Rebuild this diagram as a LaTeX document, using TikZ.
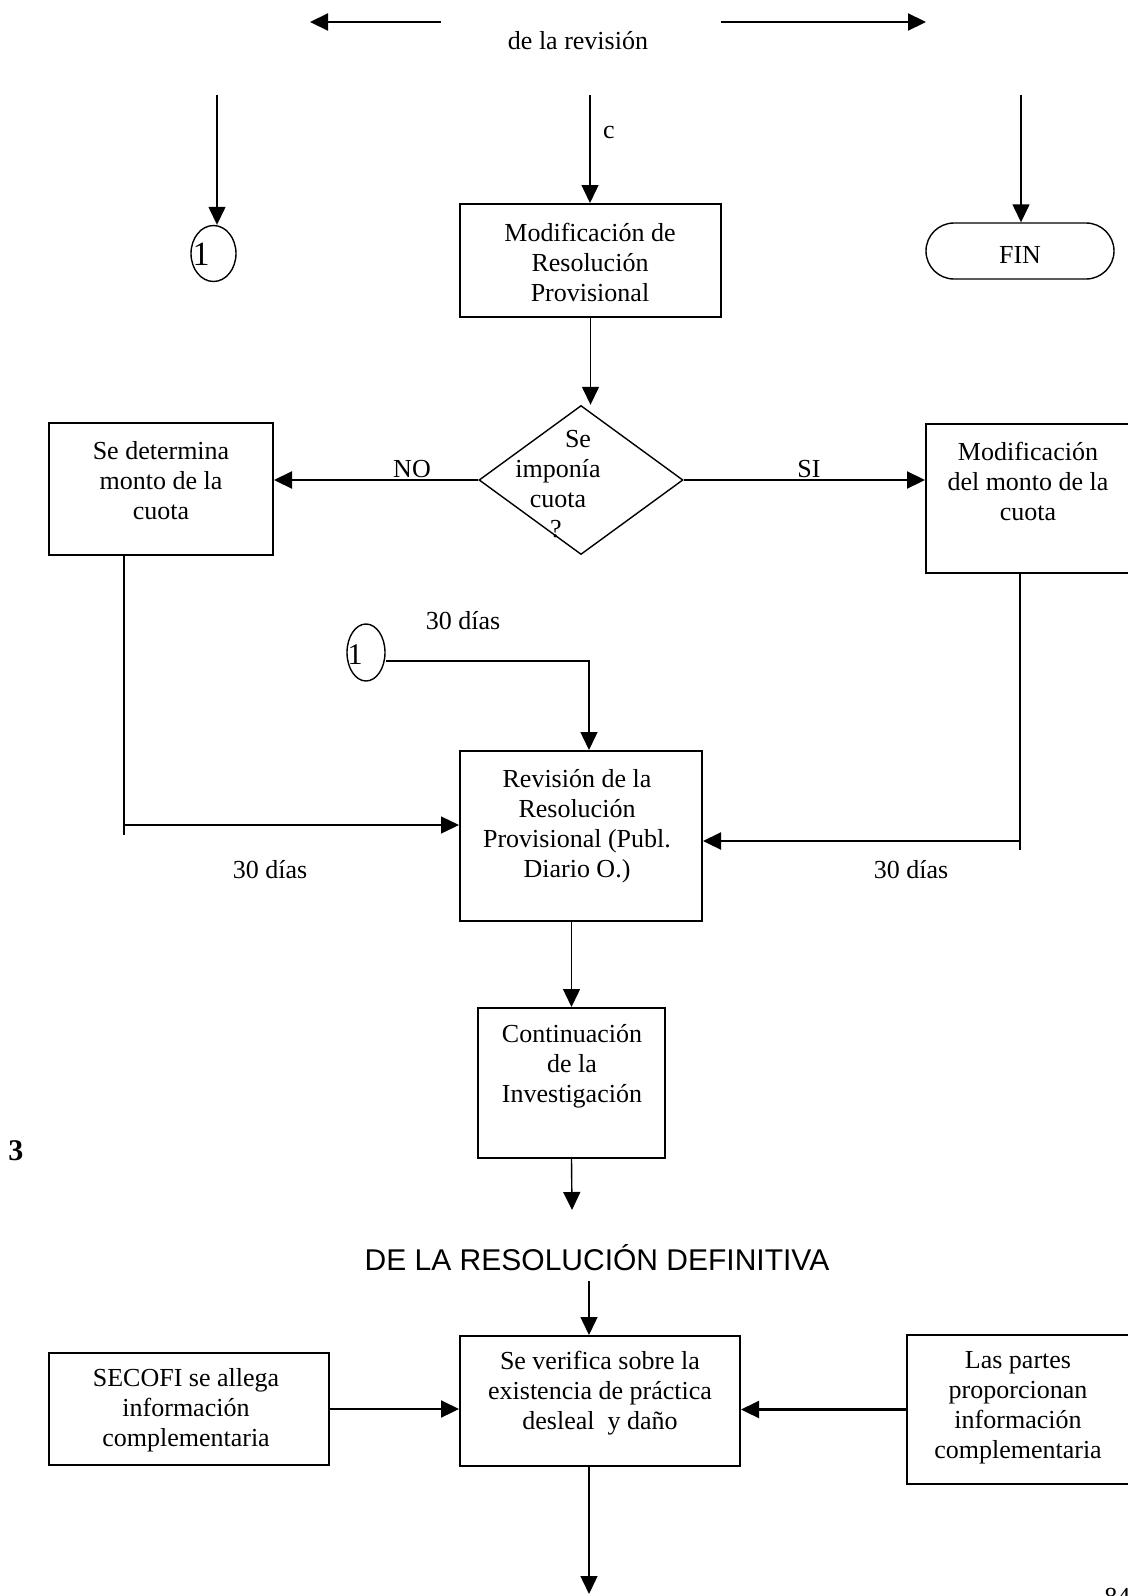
\documentclass[tikz,border=0pt]{standalone}
\usepackage{fontspec}
\setmainfont{Liberation Serif}
\newfontfamily\headfont{Liberation Sans}
\usetikzlibrary{arrows.meta,shapes.geometric,shapes.misc}

\begin{document}
\begin{tikzpicture}[x=0.5pt,y=-0.5pt,
  box/.style={draw,line width=1pt,inner sep=0pt},
  txt/.style={align=center,font=\fontsize{13}{15}\selectfont,inner sep=0pt},
  wire/.style={line width=0.7pt},
  arr/.style={line width=0.7pt,-{Triangle[length=9pt,width=8.5pt]}},
  tarr/.style={line width=1.1pt,-{Triangle[length=9pt,width=8.5pt]}},
]
\useasboundingbox (0,0) rectangle (1128,1596);

% ---------- top: outcome of the review ----------
\node[txt] (rev0) at (578,41) {de la revisión};
\coordinate (tla) at (441,22);
\coordinate (tlb) at (310,22);
\coordinate (tra) at (721,22);
\coordinate (trb) at (926,22);
\draw[tarr] (tla) -- (tlb);
\draw[tarr] (tra) -- (trb);

\coordinate (v1) at (217,95);
\coordinate (v2) at (590,95);
\coordinate (v3) at (1021,95);

\node[draw,ellipse,line width=0.7pt,inner sep=0pt,minimum width=22.5pt,minimum height=28pt] (c1) at (213.5,253.5) {};
\node[txt,font=\fontsize{17}{19}\selectfont] (c1t) at (201,254) {1};
\node[box,minimum width=130.5pt,minimum height=56.5pt] (mod) at (590.5,260.5) {};
\node[txt] (modt) at (590,262) {Modificación de\\Resolución\\Provisional};
\node[draw,rounded rectangle,line width=0.7pt,inner sep=0pt,minimum width=94pt,minimum height=28pt] (fin) at (1020,251) {};
\node[txt] (fint) at (1020,255) {FIN};

\draw[arr] (v1) -- (v1 |- c1.north);
\draw[arr] (v2) -- (v2 |- mod.north);
\draw[arr] (v3) -- (v3 |- fin.north);
\node[txt] (clab) at (609,132) {c};

% ---------- decision ----------
\node[draw,diamond,line width=0.7pt,inner sep=0pt,minimum width=102pt,minimum height=74.5pt] (dia) at (581,480) {};
\node[txt] (diat) at (558,484) {\hspace*{20pt}Se\\imponía\\cuota\hspace*{6pt}\\?\hspace*{2pt}};
\draw[arr] (mod.south) -- (mod.south |- dia.north);

\node[box,minimum width=112pt,minimum height=66pt] (det) at (161,489) {};
\node[txt] (dett) at (161,481) {Se determina\\monto de la\\cuota};
\node[box,minimum width=107pt,minimum height=74.5pt] (mm) at (1033,498.5) {};
\node[txt] (mmt) at (1028,481) {Modificación\\del monto de la\\cuota};

\draw[tarr] (dia.west) -- (dia.west -| det.east);
\draw[tarr] (dia.east) -- (dia.east -| mm.west);
\node[txt] (nolab) at (412,469) {NO};
\node[txt] (silab) at (809,469) {SI};

% ---------- review of the provisional resolution ----------
\node[box,minimum width=121pt,minimum height=85pt] (rev) at (581,836) {};
\node[txt] (revt) at (577,826) {Revisión de la\\Resolución\\Provisional (Publ.\\Diario O.)};

\coordinate (l1) at (124,835);
\coordinate (l2) at (124,825);
\draw[wire] (det.south -| l1) -- (l1);
\draw[arr] (l2) -- (l2 -| rev.west);
\node[txt] (d1) at (270,870) {30 días};

\coordinate (r1) at (1020,850);
\coordinate (r2) at (1020,841);
\draw[wire] (mm.south -| r1) -- (r1);
\draw[tarr] (r2) -- (r2 -| rev.east);
\node[txt] (d2) at (911,870) {30 días};

\node[draw,ellipse,line width=0.7pt,inner sep=0pt,minimum width=19pt,minimum height=28.5pt] (c2) at (366,652.5) {};
\node[txt,font=\fontsize{15}{17}\selectfont] (c2t) at (355,655) {1};
\coordinate (k1) at (589,661);
\draw[arr] (c2.east |- k1) -- (k1) -- (k1 |- rev.north);
\node[txt] (d3) at (463,621) {30 días};

% ---------- continuation ----------
\node[box,minimum width=93.5pt,minimum height=75pt] (cont) at (571.5,1083) {};
\node[txt] (contt) at (572,1066) {Continuación\\de la\\Investigación};
\draw[arr] (rev.south -| cont.north) -- (cont.north);

\node[font=\bfseries\fontsize{15}{18}\selectfont,inner sep=0pt] (three) at (16,1151) {3};

\coordinate (h1) at (572,1210);
\draw[arr] (cont.south) -- (h1);

% ---------- final resolution ----------
\node[font=\headfont\fontsize{15}{18}\selectfont,inner sep=0pt] (head) at (597,1258) {DE LA RESOLUCIÓN DEFINITIVA};

\node[box,minimum width=140pt,minimum height=65pt] (ver) at (600,1401) {};
\node[txt] (vert) at (600,1393) {Se verifica sobre la\\existencia de práctica\\desleal\ \ y daño};
\coordinate (h2) at (589,1281);
\draw[arr] (h2) -- (h2 |- ver.north);

\node[box,minimum width=140pt,minimum height=56pt] (sec) at (189,1409) {};
\node[txt] (sect) at (186,1410) {SECOFI se allega\\información\\complementaria};
\node[box,minimum width=116.5pt,minimum height=74.5pt] (par) at (1023.5,1409.5) {};
\node[txt] (part) at (1018,1408) {Las partes\\proporcionan\\información\\complementaria};

\draw[tarr] (sec.east) -- (sec.east -| ver.west);
\draw[tarr] (par.west) -- (par.west -| ver.east);

\coordinate (b1) at (589,1594);
\draw[arr] (b1 |- ver.south) -- (b1);

\node[txt,anchor=north west] (page) at (1104,1588) {84};
\end{tikzpicture}
\end{document}
